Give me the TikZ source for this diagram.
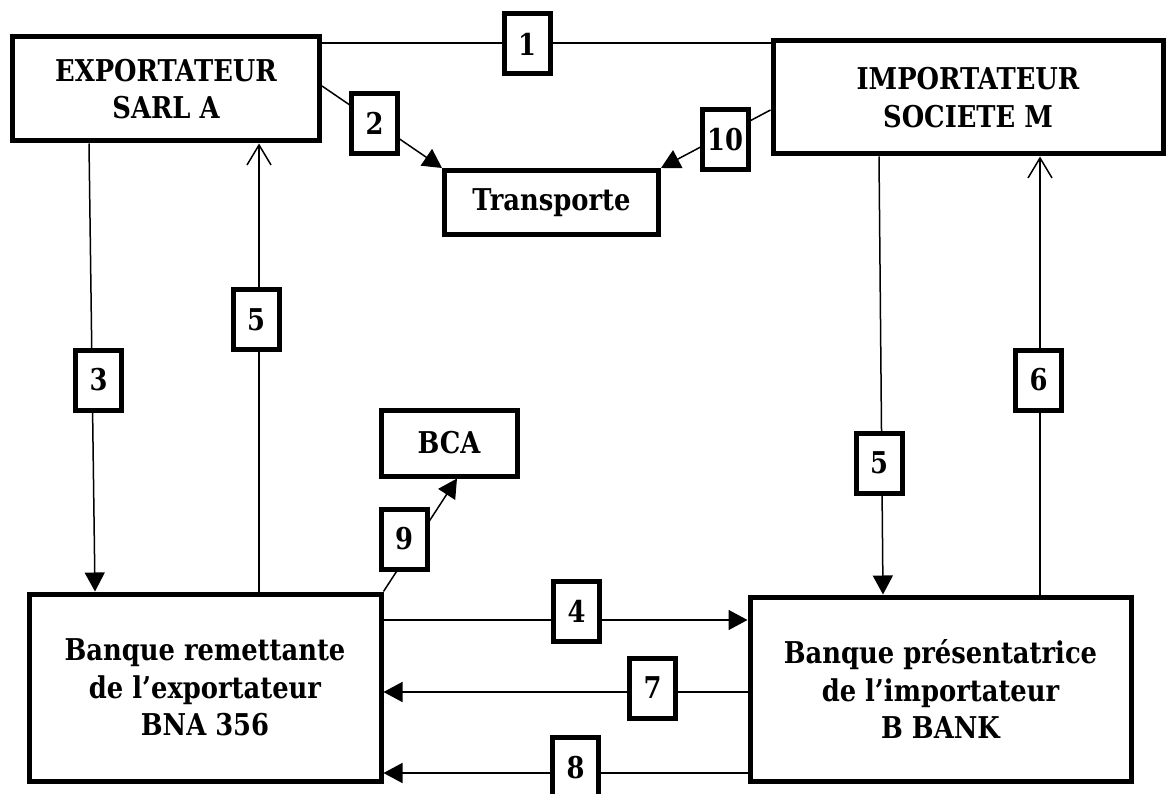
\documentclass[tikz,border=0pt]{standalone}
\usepackage{fontspec}
\setmainfont{DejaVu Serif}[FakeStretch=0.86]
\usetikzlibrary{arrows.meta}
\newcommand\bigfont{\fontsize{30pt}{37.5pt}\selectfont\bfseries}
\begin{document}
\begin{tikzpicture}[x=1pt,y=-1pt,
  box/.style={draw, line width=5pt, align=center, font=\bigfont, inner sep=0pt},
  lab/.style={draw, fill=white, line width=5pt, minimum width=46pt, minimum height=60pt, inner sep=0pt, font=\bigfont},
  con/.style={line width=1.5pt},
  tri/.style={con, -{Triangle[length=19pt,width=20pt]}},
  barb/.style={con, -{Straight Barb[length=20pt,width=24pt,line width=1.5pt]}}
]
\useasboundingbox[fill=white] (0,0) rectangle (1166,794);

% main boxes
\node[box, minimum width=307pt, minimum height=104pt] (exp) at (166,89) {EXPORTATEUR\\SARL A};
\node[box, minimum width=390pt, minimum height=113pt] (imp) at (968,97.5) {IMPORTATEUR\\SOCIETE M};
\node[box, minimum width=214pt, minimum height=64pt] (trans) at (551.5,202.5) {Transporte};
\node[box, minimum width=136pt, minimum height=66pt] (bca) at (449,443) {BCA};
\node[box, minimum width=352pt, minimum height=187pt] (rem) at (205,687.5) {Banque remettante\\de l’exportateur\\BNA 356};
\node[box, minimum width=381pt, minimum height=184pt] (pres) at (940.5,689) {Banque présentatrice\\de l’importateur\\B BANK};

% connectors
\draw[con] (exp.east |- 0,43) -- (imp.west |- 0,43);
\draw[tri] ([yshift=3pt]exp.east) -- (trans.north west);
\draw[tri] ([yshift=-12.5pt]imp.west) -- (trans.north east);
\draw[tri] (exp.south -| 89,0) -- (rem.north -| 95,0);
\draw[barb] (rem.north -| 259,0) -- (exp.south -| 259,0);
\draw[tri] (imp.south -| 879,0) -- (pres.north -| 883,0);
\draw[barb] (pres.north -| 1040,0) -- (imp.south -| 1040,0);
\draw[tri] (rem.north east) -- (bca.south -| 457,0);
\draw[tri] (rem.east |- 0,620) -- (pres.west |- 0,620);
\draw[tri] (pres.west |- 0,692) -- (rem.east |- 0,692);
\draw[tri] (pres.west |- 0,773) -- (rem.east |- 0,773);

% step labels
\node[lab] (l1) at (527,44) {1};
\node[lab] (l2) at (374.5,123.5) {2};
\node[lab] (l10) at (725,139.5) {10};
\node[lab] (l3) at (98.5,380) {3};
\node[lab] (l5a) at (256,319.5) {5};
\node[lab] (l5b) at (879,463) {5};
\node[lab] (l6) at (1038.5,380) {6};
\node[lab] (l9) at (404,539) {9};
\node[lab] (l4) at (576.5,611.5) {4};
\node[lab] (l7) at (652.5,688) {7};
\node[lab] (l8) at (575.5,767.5) {8};
\end{tikzpicture}
\end{document}
